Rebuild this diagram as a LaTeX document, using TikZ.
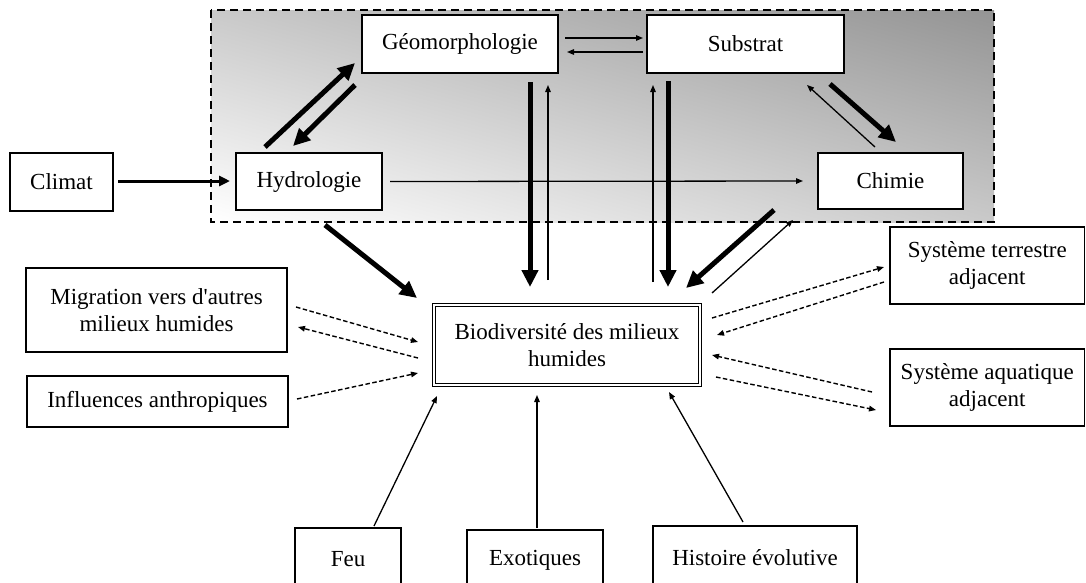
\documentclass[tikz,border=0pt]{standalone}
\usepackage{fontspec}
\setmainfont{Liberation Serif}
\usetikzlibrary{arrows.meta}
\begin{document}
\begin{tikzpicture}[x=1pt,y=-1pt,
  box/.style={draw, line width=1.4pt, fill=white, inner sep=0pt, outer sep=0pt, align=center, font=\fontsize{23}{26.5}\selectfont},
  thickarr/.style={line width=5pt, -{Triangle[length=17pt,width=16pt]}},
  midarr/.style={line width=3pt, -{Triangle[length=11pt,width=10pt]}},
  thinarr/.style={line width=1.3pt, -{Triangle[length=7pt,width=5.5pt]}},
  dasharr/.style={line width=1.4pt, dash pattern=on 4.5pt off 2.5pt, -{Triangle[length=7pt,width=5.5pt]}},
  zone/.style={line width=1.6pt, dash pattern=on 8pt off 5pt}
]
\useasboundingbox (0,0) rectangle (1086,582);
\clip (0,0) rectangle (1086,582);
\fill[white] (0,0) rectangle (1086,582);

% shaded zone
\begin{scope}
  \clip (211,10) rectangle (994,222);
  \begin{scope}[transform canvas={rotate around={-15.2:(602.5,116)}}]
    \shade[top color=black!42, middle color=black!15, bottom color=white] (2.5,-89) rectangle (1202.5,321);
  \end{scope}
\end{scope}
\draw[zone] (211,10) rectangle (994,222);

% nodes
\node[box, minimum width=103pt, minimum height=58pt] (climat) at (61.5,182) {Climat};
\node[box, minimum width=146pt, minimum height=57pt] (hydro) at (309,181.5) {Hydrologie};
\node[box, minimum width=196pt, minimum height=58pt] (geo) at (460,44) {Géomorphologie};
\node[box, minimum width=197pt, minimum height=58pt] (sub) at (745.5,44) {Substrat};
\node[box, minimum width=145pt, minimum height=56pt] (chim) at (890.5,181) {Chimie};
\node[box, double, double distance=2.2pt, line width=1.3pt, minimum width=266pt, minimum height=80pt] (bio) at (567,345) {Biodiversité des milieux\\humides};
\node[box, minimum width=261pt, minimum height=84pt] (migr) at (156.5,310) {Migration vers d\textquotesingle autres\\milieux humides};
\node[box, minimum width=261pt, minimum height=51pt] (infl) at (157.5,401.5) {Influences anthropiques};
\node[box, minimum width=194.5pt, minimum height=77pt] (terr) at (987.25,265.5) {Système terrestre\\adjacent};
\node[box, minimum width=194.5pt, minimum height=77pt] (aqua) at (987.25,387.5) {Système aquatique\\adjacent};
\node[box, minimum width=106pt, minimum height=62pt] (feu) at (348,559) {Feu};
\node[box, minimum width=136pt, minimum height=60pt] (exo) at (535,560) {Exotiques};
\node[box, minimum width=204pt, minimum height=64pt] (hist) at (755,558) {Histoire évolutive};

% thick arrows
\draw[midarr] ([shift={(5,-1)}]climat.east) -- ([shift={(-6,-0.5)}]hydro.west);
\draw[thickarr] ([shift={(-44,-6)}]hydro.north) -- ([shift={(-7,-10)}]geo.south west);
\draw[thickarr] ([shift={(-7,12)}]geo.south west) -- ([shift={(-16,-7)}]hydro.north);
\draw[thickarr] ([shift={(16,15)}]hydro.south) -- ([shift={(-17,-7)}]bio.north west);
\draw[thickarr] ([shift={(70,9)}]geo.south) -- ([shift={(-37,-18)}]bio.north);
\draw[thickarr] ([shift={(-77.5,8)}]sub.south) -- ([shift={(101,-18)}]bio.north);
\draw[thickarr] ([shift={(-14,11)}]sub.south east) -- ([shift={(5.5,-11)}]chim.north);
\draw[thickarr] ([shift={(-44,1)}]chim.south west) -- ([shift={(-14,-17)}]bio.north east);

% thin arrows
\draw[thinarr] ([shift={(7,-6)}]geo.east) -- ([shift={(-4,-6)}]sub.west);
\draw[thinarr] ([shift={(-4,8)}]sub.west) -- ([shift={(9,8)}]geo.east);
\draw[thinarr] ([shift={(-19,-25)}]bio.north) -- ([shift={(88,12)}]geo.south);
\draw[thinarr] ([shift={(86,-23)}]bio.north) -- ([shift={(-92.5,12)}]sub.south);
\draw[thinarr] ([shift={(-15.5,-6)}]chim.north) -- ([shift={(-37,12)}]sub.south east);
\draw[thinarr] ([shift={(12,-12)}]bio.north east) -- ([shift={(-25,11)}]chim.south west);
\draw[thinarr] ([shift={(8,0)}]hydro.east) -- ([shift={(-15,0)}]chim.west);
\draw[thinarr] ([shift={(26,-2)}]feu.north) -- ([shift={(3,11)}]bio.south west);
\draw[thinarr] ([shift={(2,-2)}]exo.north) -- ([shift={(-30,10)}]bio.south);
\draw[thinarr] ([shift={(-12,-4)}]hist.north) -- ([shift={(102,7)}]bio.south);

% dashed arrows
\draw[dasharr] ([shift={(9,-3)}]migr.east) -- ([shift={(-16,-3)}]bio.west);
\draw[dasharr] ([shift={(-16,13)}]bio.west) -- ([shift={(11,17)}]migr.east);
\draw[dasharr] ([shift={(9,-2.5)}]infl.east) -- ([shift={(-16,28)}]bio.west);
\draw[dasharr] ([shift={(12,-27)}]bio.east) -- ([shift={(-6,1.5)}]terr.west);
\draw[dasharr] ([shift={(-6,16.5)}]terr.west) -- ([shift={(17,-10)}]bio.east);
\draw[dasharr] ([shift={(-18,4.5)}]aqua.west) -- ([shift={(12,10)}]bio.east);
\draw[dasharr] ([shift={(16,32)}]bio.east) -- ([shift={(-14,22.5)}]aqua.west);
\end{tikzpicture}
\end{document}
